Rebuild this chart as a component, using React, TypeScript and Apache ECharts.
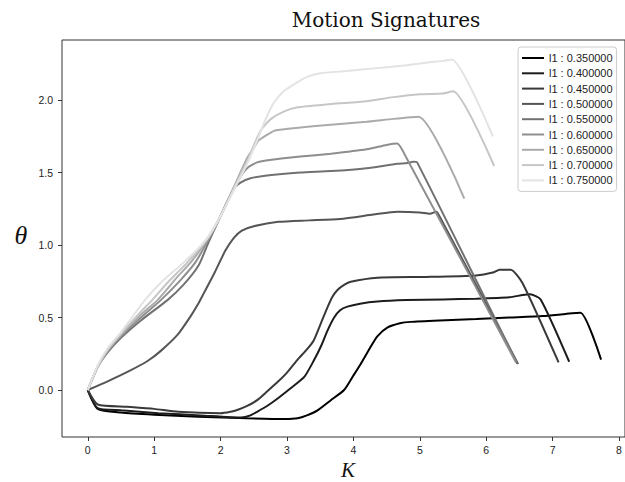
import React, { useEffect, useRef } from "react";
import * as echarts from "echarts";

const l1Values = [0.35, 0.4, 0.45, 0.5, 0.55, 0.6, 0.65, 0.7, 0.75];
const grayColors = ["#000000", "#1c1c1c", "#393939", "#555555", "#717171", "#8e8e8e", "#aaaaaa", "#c6c6c6", "#e3e3e3"];

const xTicks = [0, 1, 2, 3, 4, 5, 6, 7, 8];
const yTicks = [0, 0.5, 1.0, 1.5, 2.0];

const s035: [number, number][] = [
  [0, 0], [0.15, -0.13], [0.5, -0.155], [1.0, -0.17], [1.66, -0.184], [2.4, -0.195], [2.97, -0.2],
  [3.16, -0.195], [3.3, -0.175], [3.46, -0.14], [3.66, -0.07], [3.86, 0.0], [4.0, 0.1], [4.11, 0.18],
  [4.25, 0.29], [4.36, 0.37], [4.51, 0.43], [4.7, 0.46], [4.86, 0.47], [5.3, 0.48], [5.85, 0.49],
  [6.35, 0.5], [6.85, 0.51], [7.2, 0.525], [7.42, 0.533], [7.73, 0.21],
];
const s040: [number, number][] = [
  [0, 0], [0.15, -0.125], [0.5, -0.14], [1.06, -0.16], [1.7, -0.175], [2.31, -0.19], [2.45, -0.175],
  [2.55, -0.15], [2.7, -0.11], [2.87, -0.055], [3.05, 0.01], [3.26, 0.09], [3.4, 0.2], [3.51, 0.3],
  [3.61, 0.41], [3.71, 0.5], [3.8, 0.55], [3.91, 0.575], [4.1, 0.595], [4.36, 0.61], [4.8, 0.62],
  [5.35, 0.625], [5.85, 0.63], [6.35, 0.64], [6.55, 0.655], [6.66, 0.66], [6.82, 0.625], [7.25, 0.195],
];
const s045: [number, number][] = [
  [0, 0], [0.15, -0.1], [0.59, -0.115], [1.0, -0.13], [1.36, -0.15], [2.0, -0.16], [2.15, -0.15],
  [2.25, -0.138], [2.4, -0.11], [2.55, -0.07], [2.7, -0.01], [2.87, 0.06], [3.0, 0.12], [3.16, 0.21],
  [3.3, 0.28], [3.4, 0.34], [3.51, 0.46], [3.6, 0.56], [3.68, 0.64], [3.76, 0.69], [3.86, 0.725],
  [3.96, 0.747], [4.36, 0.775], [5.1, 0.78], [5.85, 0.79], [6.1, 0.81], [6.2, 0.83], [6.37, 0.83],
  [6.55, 0.735], [7.09, 0.19],
];
const s050: [number, number][] = [
  [0, 0], [0.3, 0.06], [0.62, 0.13], [0.9, 0.2], [1.1, 0.27], [1.35, 0.38], [1.55, 0.51], [1.67, 0.6],
  [1.75, 0.67], [1.9, 0.8], [2.07, 0.96], [2.2, 1.05], [2.32, 1.1], [2.5, 1.13], [2.87, 1.16],
  [3.34, 1.17], [3.8, 1.18], [4.3, 1.21], [4.66, 1.23], [5.0, 1.225], [5.15, 1.215], [5.25, 1.23],
  [5.3, 1.195], [6.48, 0.18],
];
const s055: [number, number][] = [
  [0, 0], [0.15, 0.16], [0.3, 0.26], [0.5, 0.36], [0.8, 0.48], [1.2, 0.62], [1.45, 0.73], [1.67, 0.86],
  [1.82, 1.02], [1.95, 1.15], [2.1, 1.3], [2.2, 1.39], [2.3, 1.43], [2.45, 1.46], [2.7, 1.48],
  [3.2, 1.5], [3.66, 1.51], [4.2, 1.53], [4.66, 1.56], [4.81, 1.565], [4.9, 1.575], [4.96, 1.57],
  [6.47, 0.18],
];
const s060: [number, number][] = [
  [0, 0], [0.15, 0.16], [0.3, 0.27], [0.5, 0.37], [0.8, 0.5], [1.1, 0.62], [1.4, 0.76], [1.62, 0.88],
  [1.82, 1.04], [2.0, 1.2], [2.15, 1.34], [2.3, 1.47], [2.4, 1.53], [2.55, 1.57], [2.8, 1.59],
  [3.2, 1.61], [3.66, 1.63], [4.2, 1.66], [4.5, 1.69], [4.66, 1.7], [4.8, 1.6], [6.45, 0.19],
];
const s065: [number, number][] = [
  [0, 0], [0.15, 0.16], [0.3, 0.27], [0.5, 0.38], [0.8, 0.52], [1.05, 0.62], [1.35, 0.78], [1.55, 0.88],
  [1.82, 1.05], [2.0, 1.2], [2.2, 1.4], [2.4, 1.6], [2.5, 1.67], [2.57, 1.72], [2.7, 1.76],
  [2.82, 1.79], [3.2, 1.81], [3.66, 1.83], [4.2, 1.85], [4.6, 1.87], [4.98, 1.885], [5.67, 1.32],
];
const s070: [number, number][] = [
  [0, 0], [0.15, 0.16], [0.3, 0.28], [0.5, 0.39], [0.8, 0.54], [0.97, 0.62], [1.2, 0.74], [1.5, 0.88],
  [1.82, 1.06], [2.0, 1.2], [2.2, 1.39], [2.4, 1.58], [2.55, 1.74], [2.62, 1.8], [2.76, 1.87],
  [2.95, 1.92], [3.16, 1.95], [3.6, 1.97], [4.16, 1.99], [4.6, 2.02], [5.0, 2.04], [5.35, 2.045],
  [5.5, 2.06], [6.12, 1.545],
];
const s075: [number, number][] = [
  [0, 0], [0.15, 0.17], [0.3, 0.29], [0.5, 0.4], [0.86, 0.62], [1.1, 0.74], [1.42, 0.87], [1.65, 0.97],
  [1.82, 1.06], [2.0, 1.2], [2.2, 1.38], [2.4, 1.56], [2.55, 1.72], [2.67, 1.86], [2.8, 1.98],
  [2.95, 2.06], [3.11, 2.11], [3.3, 2.16], [3.5, 2.185], [3.9, 2.2], [4.36, 2.22], [4.8, 2.24],
  [5.15, 2.26], [5.35, 2.27], [5.48, 2.28], [6.1, 1.75],
];

const seriesData = [s035, s040, s045, s050, s055, s060, s065, s070, s075];

export default function App() {
  const ref = useRef<HTMLDivElement>(null);
  useEffect(() => {
    if (!ref.current) return;
    const chart = echarts.init(ref.current, undefined, { renderer: "svg" });
    const names = l1Values.map((v) => `l1 : ${v.toFixed(6)}`);
    chart.setOption({
      animation: false,
      backgroundColor: "#ffffff",
      grid: {
        left: 62,
        top: 40,
        width: 568,
        height: 397,
        show: true,
        borderColor: "#333333",
        borderWidth: 1,
        backgroundColor: "transparent",
      },
      xAxis: {
        type: "value",
        min: -0.388,
        max: 8.09,
        axisLine: { show: false, onZero: false },
        splitLine: { show: false },
        axisTick: { show: true, length: 4, lineStyle: { color: "#333" }, customValues: xTicks },
        axisLabel: {
          customValues: xTicks,
          fontSize: 10.5,
          color: "#222",
          fontFamily: "Liberation Sans",
          margin: 7,
          formatter: (v: number) => String(v),
        },
      },
      yAxis: {
        type: "value",
        min: -0.324,
        max: 2.414,
        axisLine: { show: false, onZero: false },
        splitLine: { show: false },
        axisTick: { show: true, length: 4, lineStyle: { color: "#333" }, customValues: yTicks },
        axisLabel: {
          customValues: yTicks,
          fontSize: 10.5,
          color: "#222",
          fontFamily: "Liberation Sans",
          margin: 9,
          formatter: (v: number) => v.toFixed(1),
        },
      },
      legend: {
        orient: "vertical",
        left: 518,
        top: 47,
        icon: "rect",
        itemWidth: 22,
        itemHeight: 2,
        itemGap: 3.3,
        backgroundColor: "#ffffff",
        borderColor: "#cccccc",
        borderWidth: 1,
        borderRadius: 3,
        padding: [5, 4, 5, 4],
        textStyle: { fontSize: 11, lineHeight: 12, color: "#222", fontFamily: "Liberation Sans" },
        data: names,
      },
      graphic: [
        {
          type: "text",
          x: 386,
          y: 20,
          style: {
            text: "Motion Signatures",
            font: '20px "DejaVu Serif"',
            fill: "#111",
            align: "center",
            verticalAlign: "middle",
          },
        },
        {
          type: "text",
          x: 21,
          y: 235,
          style: {
            text: "θ",
            font: 'italic 26px "Liberation Serif"',
            fill: "#111",
            align: "center",
            verticalAlign: "middle",
          },
        },
        {
          type: "text",
          x: 348,
          y: 470,
          style: {
            text: "K",
            font: 'italic 21px "Liberation Serif"',
            fill: "#111",
            align: "center",
            verticalAlign: "middle",
          },
        },
      ],
      series: seriesData.map((d, i) => ({
        name: names[i],
        type: "line",
        data: d,
        symbol: "none",
        smooth: 0.2,
        color: grayColors[i],
        lineStyle: { width: 2, color: grayColors[i] },
      })),
    });
    return () => chart.dispose();
  }, []);
  return (
    <div
      ref={ref}
      style={{ position: "absolute", left: 0, top: 0, width: 625, height: 482 }}
    />
  );
}
